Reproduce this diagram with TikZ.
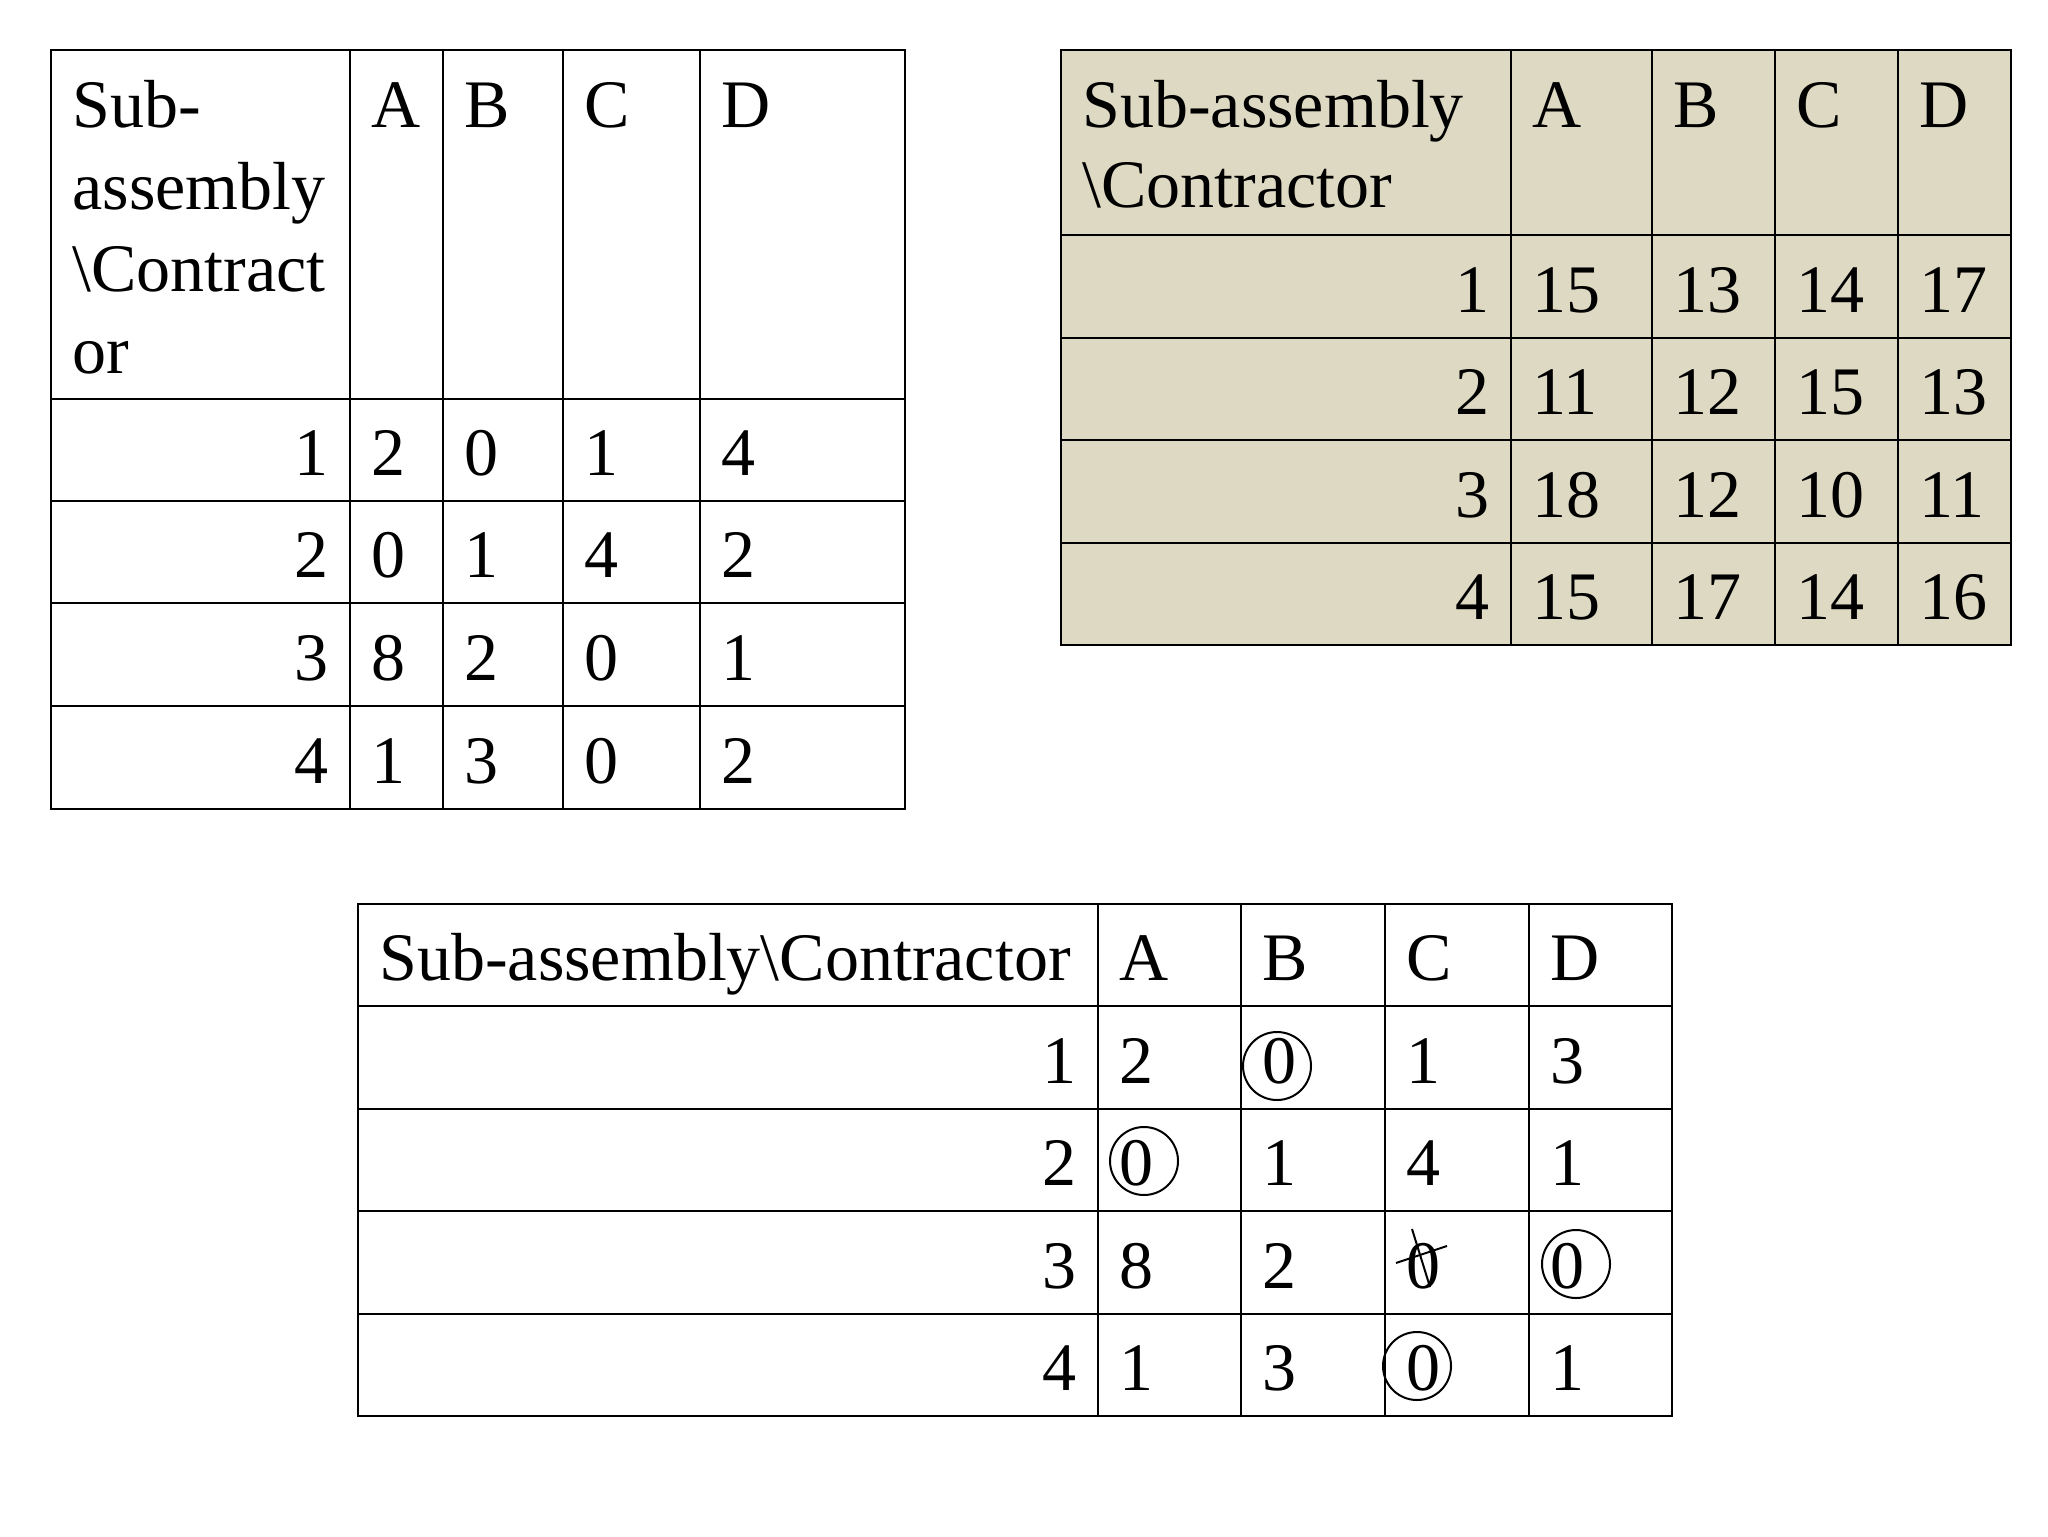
\documentclass[tikz,border=0pt]{standalone}
\usepackage{fontspec}
\setmainfont{Liberation Serif}
\definecolor{sandfill}{HTML}{DDD9C3}

\begin{document}
\begin{tikzpicture}[x=0.5pt, y=-0.5pt,
        txt/.style={inner sep=0pt, font=\fontsize{34}{41}\selectfont},
        lft/.style={txt, anchor=base west},
        rgt/.style={txt, anchor=base east},
        rule/.style={line width=1.3pt},
        ring/.style={circle, draw, line width=1pt, minimum size=34pt, inner sep=0pt}]
    \useasboundingbox (0,0) rectangle (2048,1536);

    % first table
    \draw[rule] (51,50) rectangle (905,809);
    \foreach \x in {350,443,563,700} \draw[rule] (\x,50) -- (\x,809);
    \foreach \y in {399,501,603,706} \draw[rule] (51,\y) -- (905,\y);
    \foreach \t [count=\i] in {Sub-,assembly,\textbackslash Contract,or}
        \node[lft] (L-h\i) at (72,45+82*\i) {\t};
    \foreach \c/\x in {A/350,B/443,C/563,D/700}
        \node[lft] (L-\c) at (\x+21,127) {\c};
    \foreach \r/\y/\a/\b/\e/\d in {1/475/2/0/1/4, 2/577/0/1/4/2, 3/680/8/2/0/1, 4/783/1/3/0/2} {
        \node[rgt] (L-\r) at (329,\y) {\r};
        \node[lft] (L-\r-A) at (371,\y) {\a};
        \node[lft] (L-\r-B) at (464,\y) {\b};
        \node[lft] (L-\r-C) at (584,\y) {\e};
        \node[lft] (L-\r-D) at (721,\y) {\d};
    }

    % cost table
    \fill[sandfill] (1061,50) rectangle (2011,645);
    \draw[rule] (1061,50) rectangle (2011,645);
    \foreach \x in {1511,1652,1775,1898} \draw[rule] (\x,50) -- (\x,645);
    \foreach \y in {235,338,440,543} \draw[rule] (1061,\y) -- (2011,\y);
    \node[lft] (R-h1) at (1082,127) {Sub-assembly};
    \node[lft] (R-h2) at (1082,207) {\textbackslash Contractor};
    \foreach \c/\x in {A/1511,B/1652,C/1775,D/1898}
        \node[lft] (R-\c) at (\x+21,127) {\c};
    \foreach \r/\y/\a/\b/\e/\d in {1/312/15/13/14/17, 2/414/11/12/15/13, 3/517/18/12/10/11, 4/619/15/17/14/16} {
        \node[rgt] (R-\r) at (1490,\y) {\r};
        \node[lft] (R-\r-A) at (1532,\y) {\a};
        \node[lft] (R-\r-B) at (1673,\y) {\b};
        \node[lft] (R-\r-C) at (1796,\y) {\e};
        \node[lft] (R-\r-D) at (1919,\y) {\d};
    }

    % reduced table with assignment
    \draw[rule] (358,904) rectangle (1672,1416);
    \foreach \x in {1098,1241,1385,1529} \draw[rule] (\x,904) -- (\x,1416);
    \foreach \y in {1006,1109,1211,1314} \draw[rule] (358,\y) -- (1672,\y);
    \node[lft] (M-h) at (379,980) {Sub-assembly\textbackslash Contractor};
    \foreach \c/\x in {A/1098,B/1241,C/1385,D/1529}
        \node[lft] (M-\c) at (\x+21,980) {\c};
    \foreach \r/\y/\a/\b/\e/\d in {1/1083/2/0/1/3, 2/1185/0/1/4/1, 3/1288/8/2/0/0, 4/1390/1/3/0/1} {
        \node[rgt] (M-\r) at (1077,\y) {\r};
        \node[lft] (M-\r-A) at (1119,\y) {\a};
        \node[lft] (M-\r-B) at (1262,\y) {\b};
        \node[lft] (M-\r-C) at (1406,\y) {\e};
        \node[lft] (M-\r-D) at (1550,\y) {\d};
    }
    \node[ring] (ring-1B) at (1277,1066) {};
    \node[ring] (ring-2A) at (1144,1161) {};
    \node[ring] (ring-3D) at (1576,1264) {};
    \node[ring] (ring-4C) at (1417,1366) {};
    \draw[line width=1pt] (1412,1229) -- (1430,1287);
    \draw[line width=1pt] (1396,1263) -- (1447,1246);
\end{tikzpicture}
\end{document}
